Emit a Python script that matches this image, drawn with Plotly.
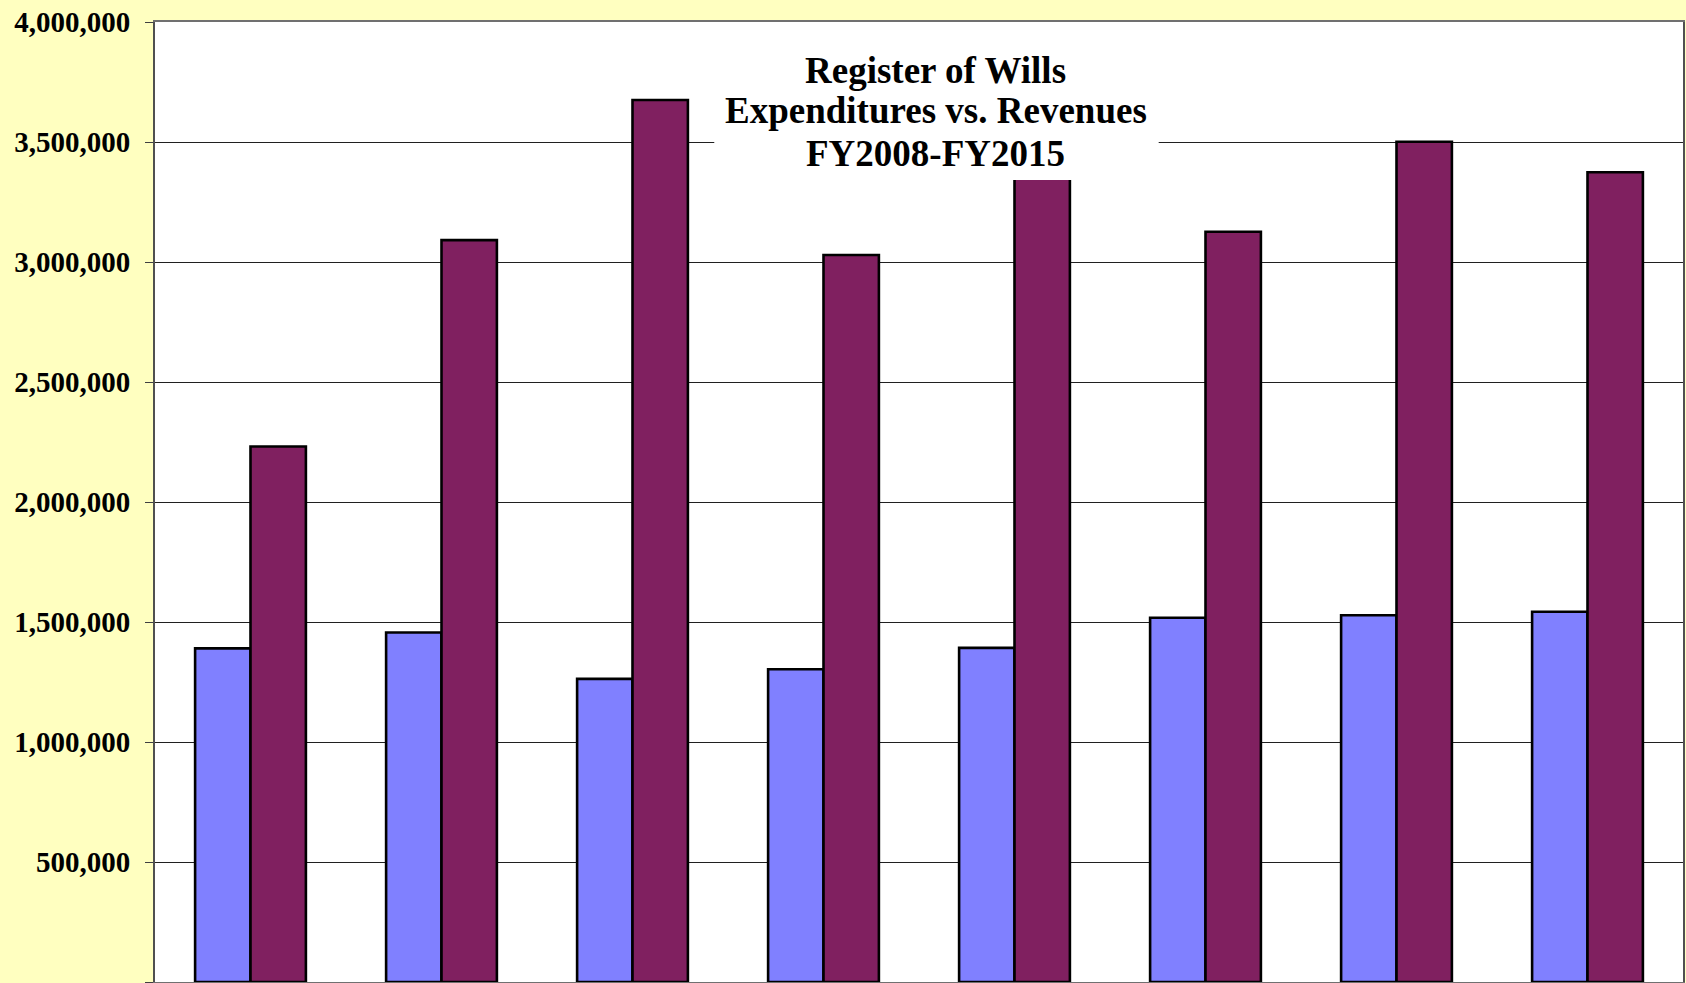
import plotly.graph_objects as go

# ---- data ----
fiscal_years = ["FY2008", "FY2009", "FY2010", "FY2011", "FY2012", "FY2013", "FY2014", "FY2015"]
expenditures = [1390000, 1456000, 1263000, 1303000, 1392000, 1518000, 1528000, 1543000]
revenues = [2231000, 3091000, 3675000, 3029000, 3450000, 3126000, 3501000, 3374000]
y_ticks = [0, 500000, 1000000, 1500000, 2000000, 2500000, 3000000, 3500000, 4000000]
y_tick_labels = ["0", "500,000", "1,000,000", "1,500,000", "2,000,000",
                 "2,500,000", "3,000,000", "3,500,000", "4,000,000"]
title_lines = ["Register of Wills", "Expenditures vs. Revenues", "FY2008-FY2015"]

SERIF = "Times New Roman, Liberation Serif, serif"

fig = go.Figure()
fig.add_trace(go.Bar(
    x=fiscal_years, y=expenditures, name="Expenditures",
    marker=dict(color="#8080FF", line=dict(color="#000000", width=2.6)),
))
fig.add_trace(go.Bar(
    x=fiscal_years, y=revenues, name="Revenues",
    marker=dict(color="#802060", line=dict(color="#000000", width=2.6)),
))

W, H = 1686, 983
L, R, T, B = 155, 1, 22, 1
PH = H - T - B
PW = W - L - R


def px_to_paper_y(py):
    return (H - B - py) / PH


def px_to_paper_x(px):
    return (px - L) / PW


# white title box
fig.add_shape(
    type="rect", xref="paper", yref="paper",
    x0=px_to_paper_x(715), x1=px_to_paper_x(1160),
    y0=px_to_paper_y(180), y1=px_to_paper_y(42),
    fillcolor="white", line=dict(width=0, color="white"), layer="above",
)

centers = [70, 111, 153]
for line, cy in zip(title_lines, centers):
    fig.add_annotation(
        text=line, xref="paper", yref="paper",
        x=px_to_paper_x(937), y=px_to_paper_y(cy),
        xanchor="center", yanchor="middle", showarrow=False,
        font=dict(family=SERIF, size=37, color="black", weight=700),
    )

fig.update_layout(
    width=W, height=H,
    margin=dict(l=L, r=R, t=T, b=B, pad=0),
    paper_bgcolor="#FFFFC0",
    plot_bgcolor="#FFFFFF",
    barmode="group",
    bargap=0.42,
    bargroupgap=0,
    showlegend=False,
)
fig.update_xaxes(
    showticklabels=False, showgrid=False,
    showline=True, linecolor="#707070", linewidth=2, mirror=True,
    ticks="",
)
fig.update_yaxes(
    range=[0, 4000000],
    tickvals=y_ticks, ticktext=y_tick_labels,
    showgrid=True, gridcolor="#202020", gridwidth=1,
    showline=True, linecolor="#505050", linewidth=2, mirror=True,
    ticks="outside", ticklen=8, tickcolor="#404040", tickwidth=1,
    ticklabelstandoff=9,
    tickfont=dict(family=SERIF, size=29, color="black", weight=700),
    zeroline=False,
)

fig.write_html("out.html")
